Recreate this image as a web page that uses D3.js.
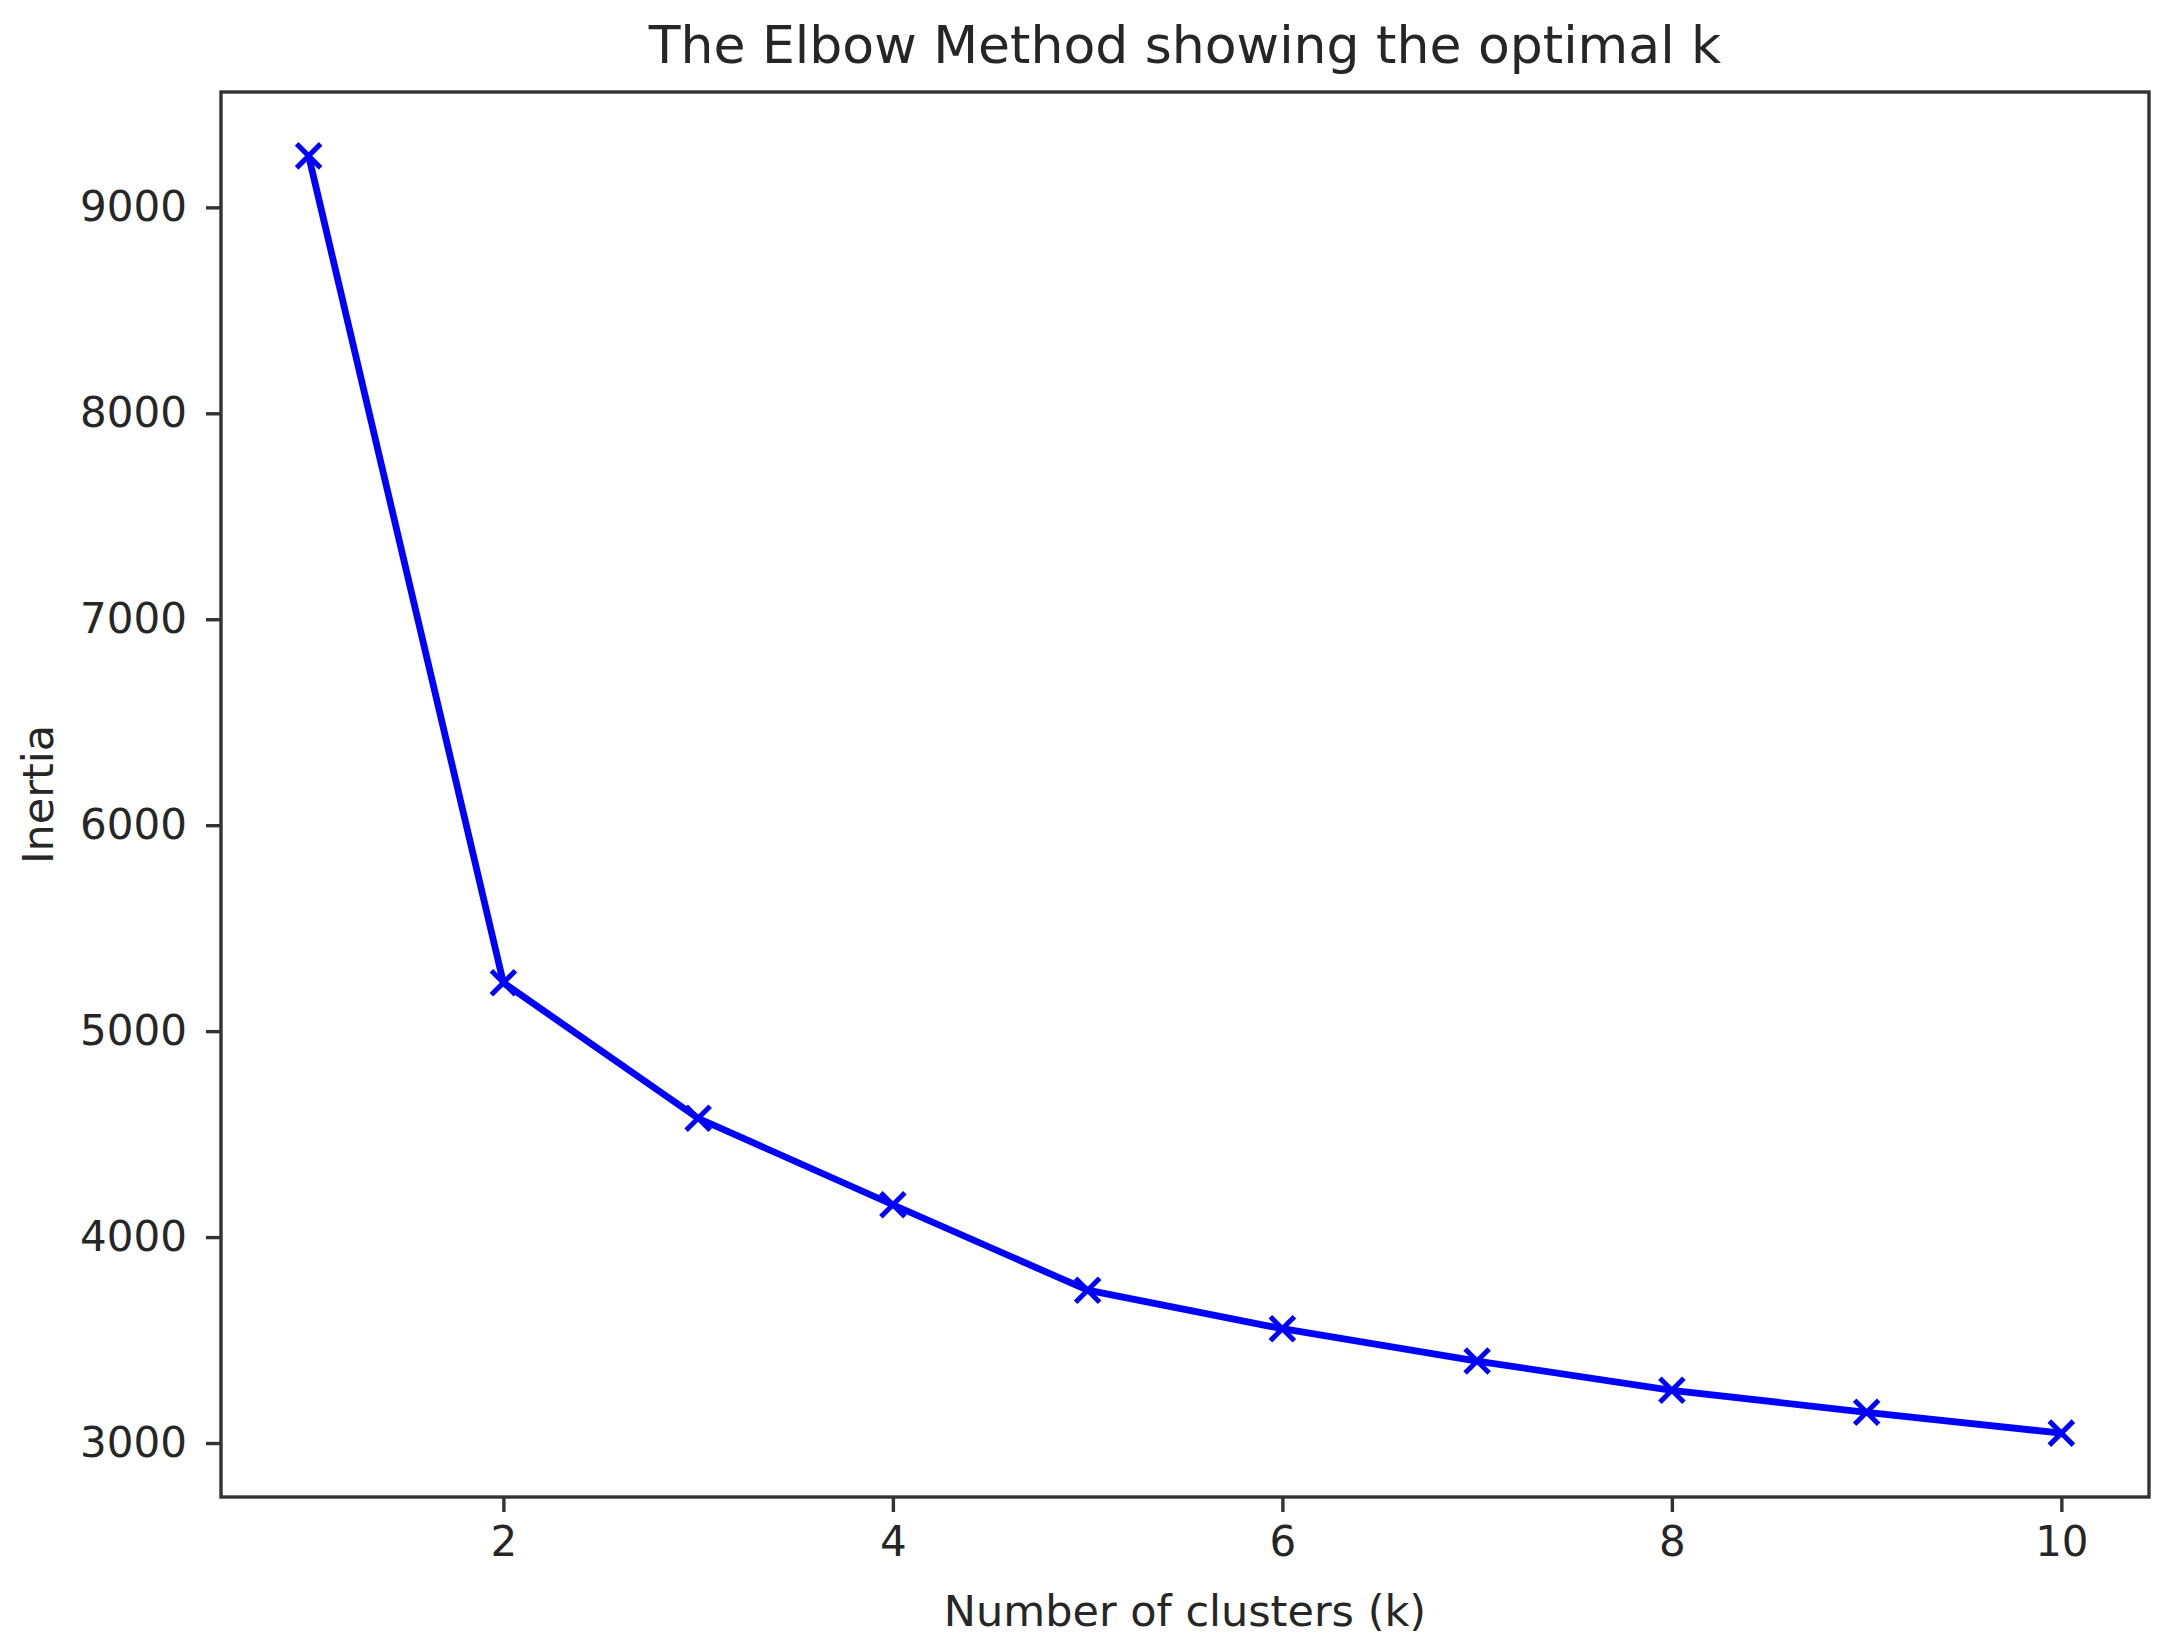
<!DOCTYPE html>
<html>
<head>
<meta charset="utf-8">
<style>
  body { margin: 0; background: #fff; }
  svg text { font-family: "DejaVu Sans", sans-serif; fill: #262626; }
</style>
</head>
<body>
<svg id="chart" width="2176" height="1647"></svg>

<script src="https://d3js.org/d3.v7.min.js"></script>
<script>
// k values and the inertia
var clusterCounts = [1, 2, 3, 4, 5, 6, 7, 8, 9, 10];
var inertia = [9250, 5235, 4577, 4157, 3742, 3555, 3398, 3256, 3149, 3048];
var xTicks = [2, 4, 6, 8, 10];
var yTicks = [3000, 4000, 5000, 6000, 7000, 8000, 9000];

var titleText = 'The Elbow Method showing the optimal k';
var xLabel = 'Number of clusters (k)';
var yLabel = 'Inertia';

var svg = d3.select('#chart');
// note: "top" is reserved on window, so plot* names
var plotLeft = 221, plotRight = 2149, plotTop = 92, plotBottom = 1497;

// matplotlib style 5% margins around the data
var withMargin = function (values) {
    var ext = d3.extent(values);
    var pad = (ext[1] - ext[0]) * 0.05;
    return [ext[0] - pad, ext[1] + pad];
};

var x = d3.scaleLinear().domain(withMargin(clusterCounts)).range([plotLeft, plotRight]);
var y = d3.scaleLinear().domain(withMargin(inertia)).range([plotBottom, plotTop]);

svg.append('rect').attr('width', 2176).attr('height', 1647).attr('fill', '#fff');

var xAxis = svg.append('g')
    .attr('transform', 'translate(0,' + plotBottom + ')')
    .call(d3.axisBottom(x).tickValues(xTicks).tickSize(15).tickPadding(14).tickFormat(d3.format('d')));
var yAxis = svg.append('g')
    .attr('transform', 'translate(' + plotLeft + ',0)')
    .call(d3.axisLeft(y).tickValues(yTicks).tickSize(15).tickPadding(19).tickFormat(d3.format('d')));

[xAxis, yAxis].forEach(function (g) {
    g.select('.domain').remove();
    g.selectAll('.tick line').attr('stroke', '#333').attr('stroke-width', 3.4);
    g.selectAll('.tick text').attr('font-size', 42).attr('font-family', 'DejaVu Sans').attr('fill', '#262626');
});

// frame
svg.append('rect')
    .attr('x', plotLeft).attr('y', plotTop)
    .attr('width', plotRight - plotLeft).attr('height', plotBottom - plotTop)
    .attr('fill', 'none').attr('stroke', '#333').attr('stroke-width', 3.4);

var points = clusterCounts.map(function (k, i) { return { k: k, v: inertia[i] }; });

svg.append('path')
    .datum(points)
    .attr('fill', 'none')
    .attr('stroke', '#0000ff')
    .attr('stroke-width', 6.8)
    .attr('stroke-linejoin', 'round')
    .attr('d', d3.line().x(function (d) { return x(d.k); }).y(function (d) { return y(d.v); }));

var m = 12;
svg.selectAll('.marker').data(points).enter()
    .append('path')
    .attr('class', 'marker')
    .attr('fill', 'none')
    .attr('stroke', '#0000ff')
    .attr('stroke-width', 5)
    .attr('d', function (d) {
        var cx = x(d.k), cy = y(d.v);
        return 'M' + (cx - m) + ',' + (cy - m) + 'L' + (cx + m) + ',' + (cy + m) +
               'M' + (cx - m) + ',' + (cy + m) + 'L' + (cx + m) + ',' + (cy - m);
    });

svg.append('text')
    .attr('x', (plotLeft + plotRight) / 2).attr('y', 63)
    .attr('text-anchor', 'middle').attr('font-size', 52)
    .text(titleText);

svg.append('text')
    .attr('x', (plotLeft + plotRight) / 2).attr('y', 1626)
    .attr('text-anchor', 'middle').attr('font-size', 43)
    .text(xLabel);

svg.append('text')
    .attr('transform', 'translate(53,' + (plotTop + plotBottom) / 2 + ') rotate(-90)')
    .attr('text-anchor', 'middle').attr('font-size', 43)
    .text(yLabel);
</script>
</body>
</html>
